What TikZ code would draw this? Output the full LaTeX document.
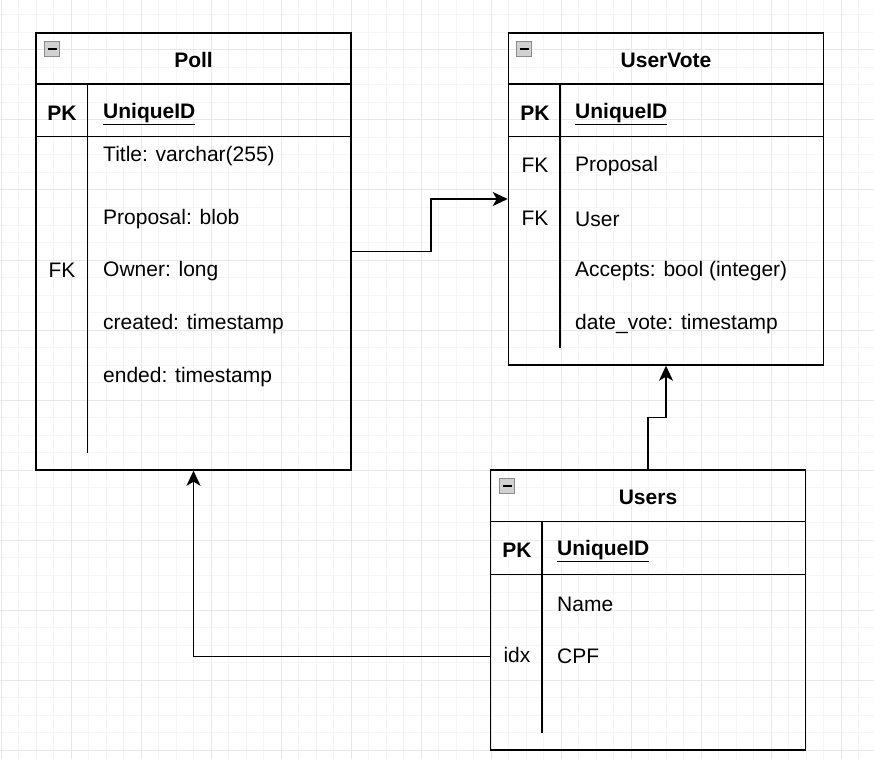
\documentclass[tikz,border=0pt]{standalone}
\usepackage{fontspec}
\setmainfont{Liberation Sans}
\usetikzlibrary{arrows.meta,calc,positioning}

\begin{document}
\begin{tikzpicture}[x=1pt,y=-1pt,
  tbl/.style={draw, line width=1.5pt, minimum width=315pt, inner sep=0pt},
  ttl/.style={font=\fontsize{21}{25}\selectfont\bfseries, inner sep=0pt},
  fld/.style={font=\fontsize{21}{25}\selectfont, anchor=west, inner sep=0pt, yshift=-1.5pt},
  key/.style={font=\fontsize{21}{25}\selectfont, inner sep=0pt},
  btn/.style={draw=black!45, fill=black!18, line width=1pt, minimum size=15pt, inner sep=0pt},
  sep/.style={line width=1.5pt},
  lnk/.style={-{Stealth[length=15pt,width=14pt,inset=4pt]}, line width=1.5pt}]

\fill[white] (0,0) rectangle (874,759);
\useasboundingbox (0,0) rectangle (874,759);
\foreach \i in {0,...,49} \draw[black!4, line width=1pt] (1+17.5*\i,0) -- (1+17.5*\i,759);
\foreach \i in {0,...,42} \draw[black!4, line width=1pt] (0,15+17.5*\i) -- (874,15+17.5*\i);
\foreach \i in {0,...,12} \draw[black!9, line width=1pt] (1+70*\i,0) -- (1+70*\i,759);
\foreach \i in {0,...,10} \draw[black!9, line width=1pt] (0,50+70*\i) -- (874,50+70*\i);

\node[tbl, minimum height=437pt] (poll) at (193.5,251.5) {};
\node[tbl, minimum height=332pt] (uservote) at (666,199) {};
\node[tbl, minimum height=280pt] (users) at (648,610) {};

\draw[sep] ($(poll.north west)+(0,52)$) -- ($(poll.north east)+(0,52)$);
\draw[sep] ($(poll.north west)+(0,104.5)$) -- ($(poll.north east)+(0,104.5)$);
\draw[sep] ($(poll.north west)+(52,52)$) -- ($(poll.south west)+(52,-18)$);
\draw[sep] ($(uservote.north west)+(0,52)$) -- ($(uservote.north east)+(0,52)$);
\draw[sep] ($(uservote.north west)+(0,104.5)$) -- ($(uservote.north east)+(0,104.5)$);
\draw[sep] ($(uservote.north west)+(52,52)$) -- ($(uservote.south west)+(52,-18)$);
\draw[sep] ($(users.north west)+(0,52)$) -- ($(users.north east)+(0,52)$);
\draw[sep] ($(users.north west)+(0,105)$) -- ($(users.north east)+(0,105)$);
\draw[sep] ($(users.north west)+(52,52)$) -- ($(users.south west)+(52,-18)$);

\node[btn] (pollbtn) at (52,49) {\rule{9pt}{2.5pt}};
\node[btn] (uservotebtn) at (524,49) {\rule{9pt}{2.5pt}};
\node[btn] (usersbtn) at (507,486) {\rule{9pt}{2.5pt}};

\node[ttl] (polltitle) at (193.5,60) {Poll};
\node[ttl] (pollpk) at (62,113) {PK};
\node[fld, font=\fontsize{21}{25}\selectfont\bfseries] (pollid) at (103,113) {\underline{UniqueID}};
\node[fld] (ptitle) at (103,155) {Title: varchar(255)};
\node[fld] (pproposal) at (103,218) {Proposal: blob};
\node[key] (pfk) at (62,270) {FK};
\node[fld] (powner) at (103,270) {Owner: long};
\node[fld] (pcreated) at (103,323) {created: timestamp};
\node[fld] (pended) at (103,376) {ended: timestamp};

\node[ttl] (uservotetitle) at (666,60) {UserVote};
\node[ttl] (uservotepk) at (535,113) {PK};
\node[fld, font=\fontsize{21}{25}\selectfont\bfseries] (uservoteid) at (575,113) {\underline{UniqueID}};
\node[key] (vfk1) at (535,165) {FK};
\node[fld] (vproposal) at (575,165) {Proposal};
\node[key] (vfk2) at (535,218) {FK};
\node[fld] (vuser) at (575,218) {User};
\node[fld] (vaccepts) at (575,270) {Accepts: bool (integer)};
\node[fld] (vdate) at (575,323) {date\_vote: timestamp};

\node[ttl] (userstitle) at (648,497) {Users};
\node[ttl] (userspk) at (517,550) {PK};
\node[fld, font=\fontsize{21}{25}\selectfont\bfseries] (usersid) at (557,550) {\underline{UniqueID}};
\node[fld] (uname) at (557,603) {Name};
\node[key] (uidx) at (517,655) {idx};
\node[fld] (ucpf) at (557,655) {CPF};

\draw[lnk] (poll.east) -- ++(79,0) |- (uservote.west);
\draw[lnk] (users.north) -- ++(0,-52) -| (uservote.south);
\draw[lnk] (users.west |- ucpf) -| (poll.south);

\end{tikzpicture}
\end{document}
